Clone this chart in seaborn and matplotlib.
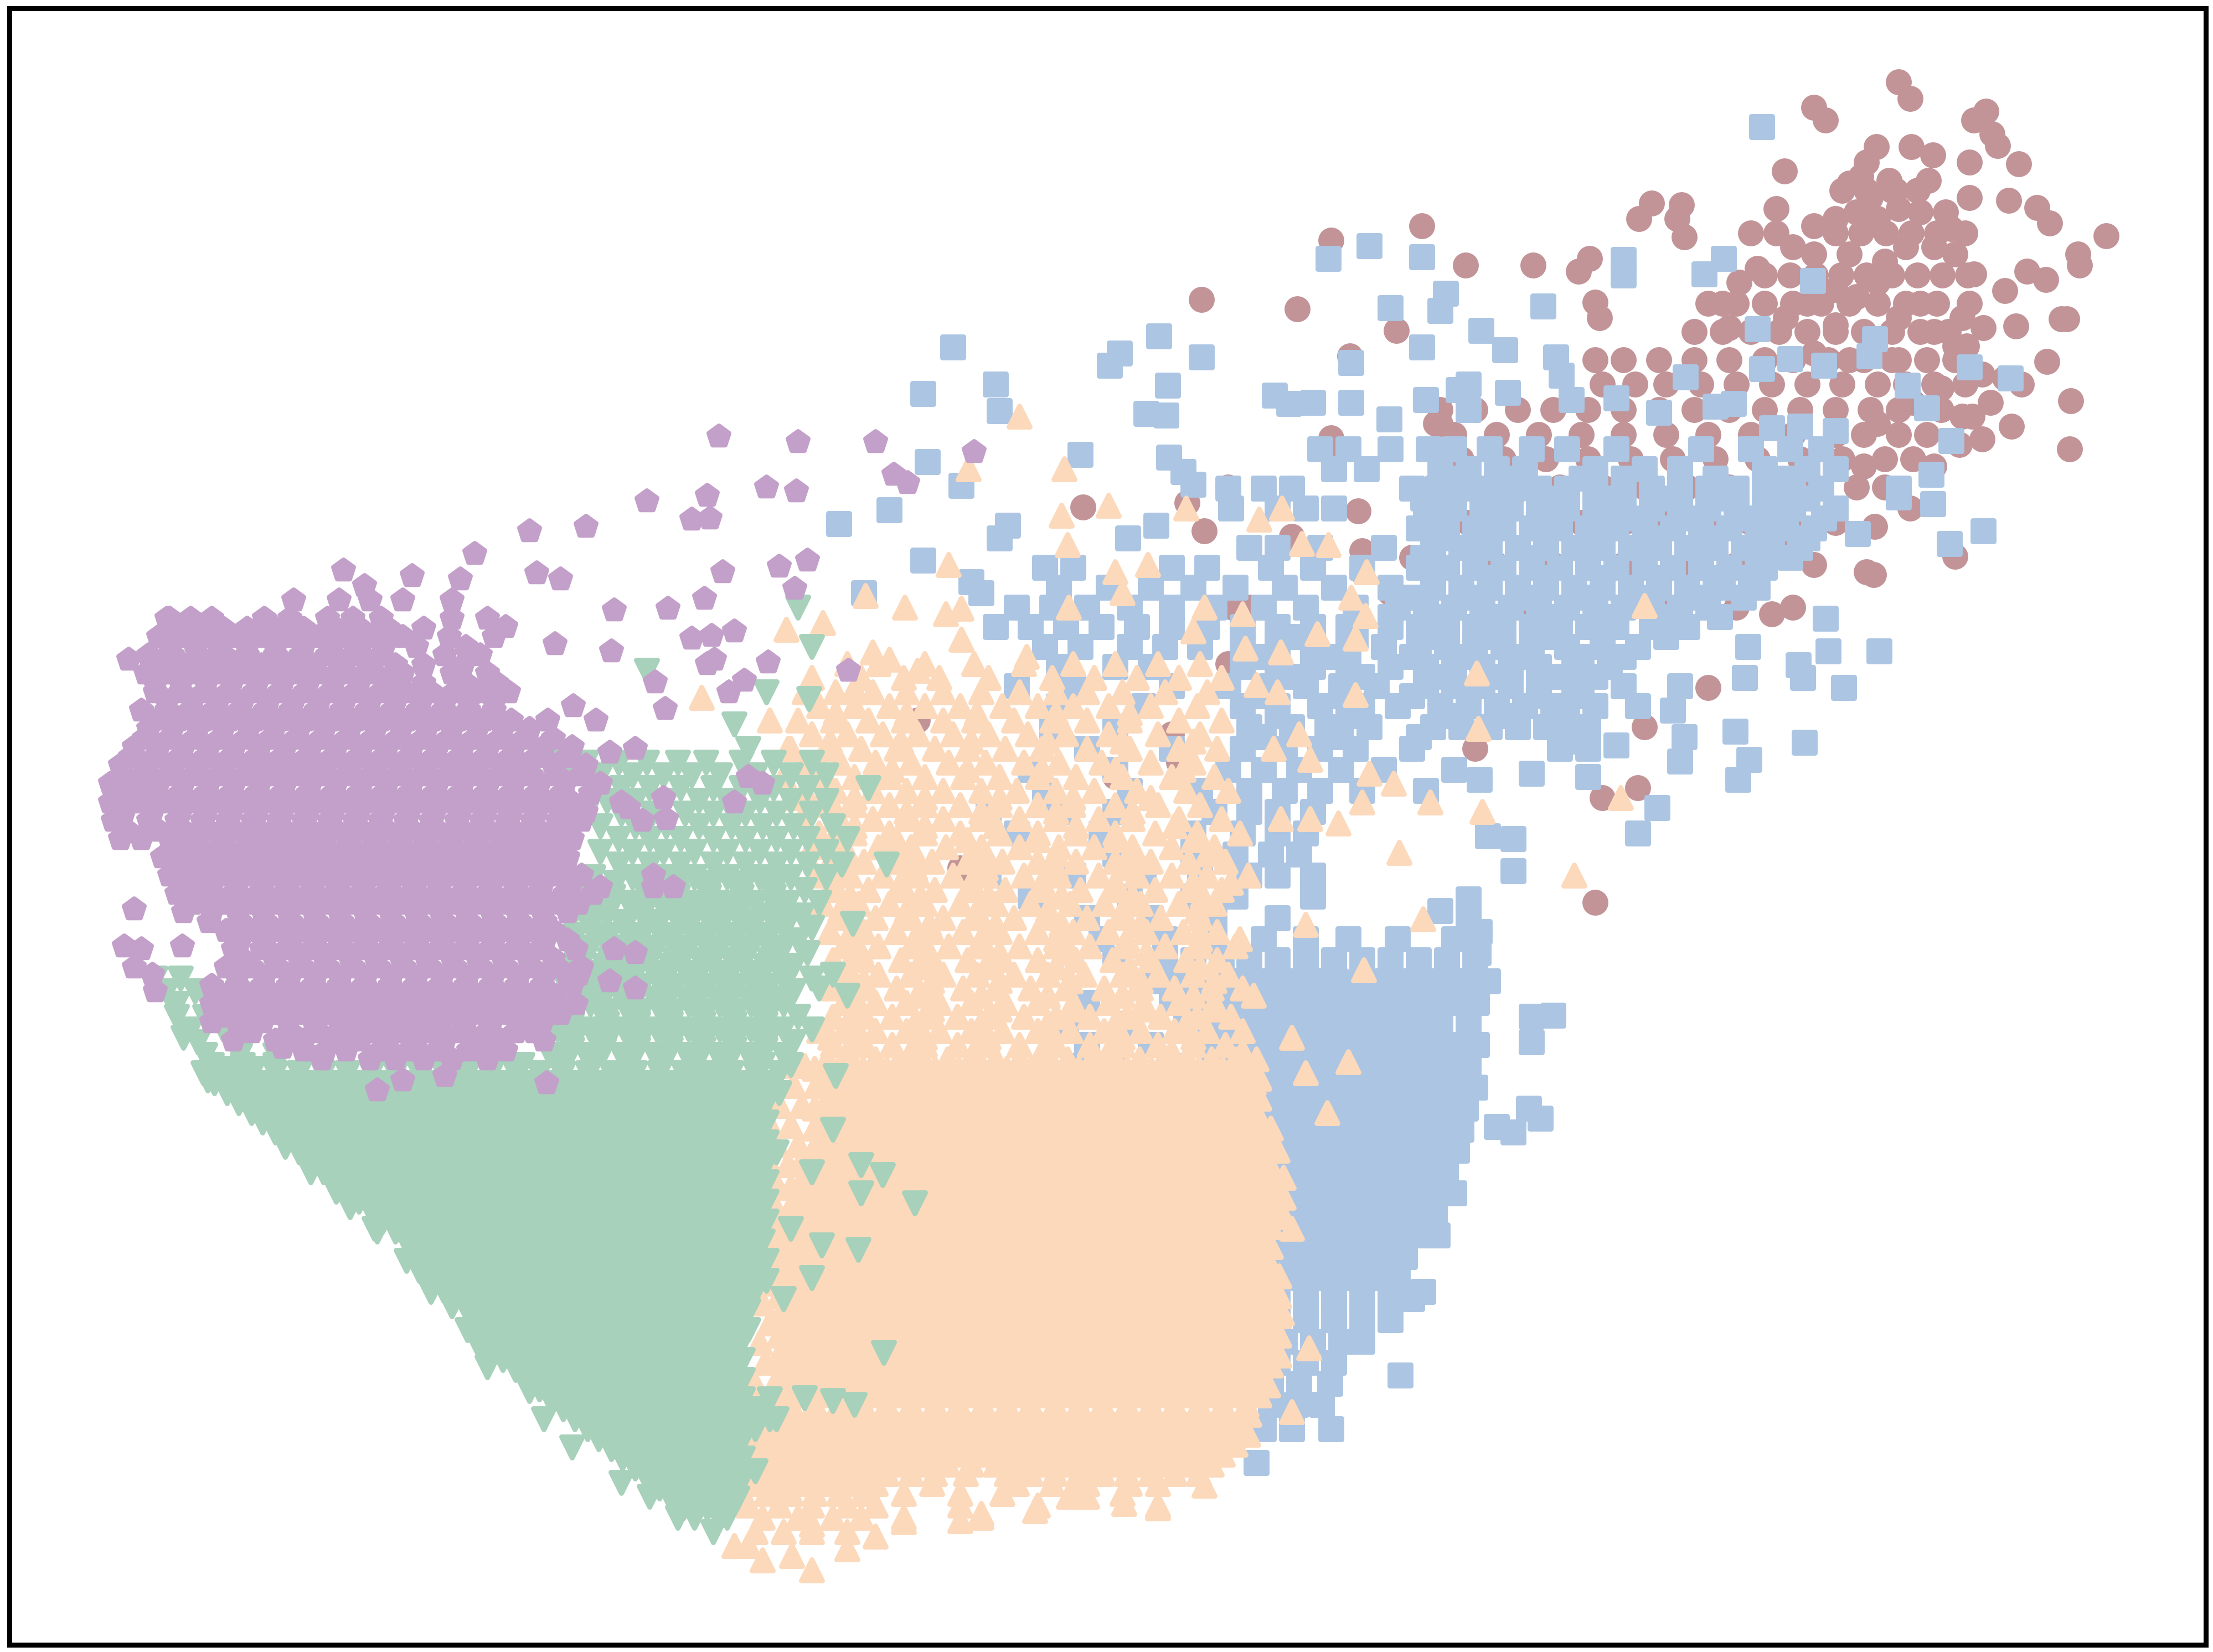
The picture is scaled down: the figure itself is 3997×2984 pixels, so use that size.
import matplotlib
matplotlib.use("Agg")
import matplotlib.pyplot as plt
import seaborn as sns

# all values, in px of the 1568x1170 view
brown_pts = [(1345,58),(1353,70),(1285,76),(1293,85),(1407,79),(1398,85),(1411,95),(1415,103),(1329,104),(1354,104),(1369,110),(1395,115),(1430,116),(1264,121),(1322,115),(1318,125),(1310,130),(1325,140),(1338,128),(1343,135),(1366,128),(1170,144),(1191,145),(1161,155),(1188,155),(1193,168),(1258,148),(1240,165),(1258,165),(1285,160),(1300,155),(1315,150),(1330,155),(1345,148),(1360,150),(1378,150),(1395,140),(1423,142),(1443,147),(1452,158),(1492,167),(1472,180),(1473,188),(1436,192),(1449,198),(1420,206),(1398,194),(1382,162),(1370,175),(1385,180),(1350,175),(1335,185),(1310,180),(1285,180),(1270,175),(1245,190),(1232,200),(1220,215),(1225,232),(1130,214),(1133,225),(1126,183),(1118,192),(1086,188),(1038,188),(1007,160),(943,170),(851,212),(919,219),(989,234),(956,252),(1020,300),(1017,300),(1460,226),(1464,226),(1405,232),(1428,231),(1393,245),(1385,245),(1404,265),(1360,215),(1345,225),(1370,235),(1390,225),(1300,205),(1280,215),(1315,210),(1330,200),(1300,230),(1265,225),(1285,250),(1310,255),(1345,255),(1467,284),(1450,256),(1425,302),(1404,311),(1397,295),(1466,318),(1432,272),(1420,268),(1410,285),(1375,275),(1390,295),(1355,285),(1330,300),(1320,330),(1335,345),(1353,360),(1388,315),(1370,330),(1385,394),(1327,407),(1322,405),(1328,373),(1262,383),(1245,400),(1255,435),(1210,487),(1165,515),(1135,565),(1160,558),(1130,639),(1045,530),(1000,395),(943,310),(945,325),(767,359),(841,356),(853,376),(962,362),(965,390),(965,405),(873,430),(885,430),(870,470),(830,520),(835,540),(650,510),(790,550),(680,615),(750,620),(830,690),(870,695),(915,380),(985,420)]

brown_rows = [
(135,[1305,1322,1340,1358]),
(165,[1300,1318,1336,1354,1372,1392]),
(195,[1250,1268,1286,1304,1322,1340,1358,1376,1394]),
(215,[1210,1230,1250,1270,1290,1310,1330,1350,1372,1395]),
(235,[1200,1220,1240,1260,1280,1300,1320,1340,1360,1380]),
(255,[1130,1150,1175,1200,1225,1250,1270,1295,1320,1340,1365,1385]),
(272,[1135,1158,1180,1205,1230,1255,1280,1305,1330,1350,1370,1392]),
(290,[1020,1045,1075,1100,1125,1150,1175,1200,1225,1250,1275,1300,1325,1345,1375]),
(308,[1030,1060,1090,1120,1150,1180,1210,1240,1270,1300,1320,1345,1365]),
(325,[1035,1065,1095,1125,1155,1185,1215,1245,1275,1305,1335,1355]),
(345,[870,1075,1105,1135,1165,1195,1225,1255,1285,1315]),
(370,[1040,1090,1120,1150,1180,1210,1240,1270,1300]),
(400,[1010,1060,1100,1150,1200,1230,1285]),
(430,[1080,1130,1180,1230,1270]),
]

blue_pts = [(1248,90),(941,183),(970,174),(1007,182),(1150,184),(1150,195),(1207,194),(1221,183),(1284,199),(1024,208),(1020,220),(985,218),(1093,217),(1245,233),(1049,234),(1066,248),(1033,276),(1007,246),(675,246),(654,279),(705,272),(708,291),(786,259),(793,250),(821,238),(827,273),(851,253),(812,293),(826,294),(1102,253),(1106,266),(1194,267),(1248,261),(1268,254),(1292,259),(1324,252),(1328,240),(1351,273),(1365,289),(1395,260),(1424,268),(903,280),(913,286),(930,285),(957,257),(957,285),(984,297),(1010,283),(1040,272),(1040,290),(1068,278),(1113,283),(1145,282),(1175,292),(1215,288),(1228,286),(1255,303),(1275,302),(1300,305),(1382,312),(1368,336),(1369,357),(1345,352),(1316,378),(1381,385),(1405,376),(1331,461),(1306,487),(1278,526),(1274,471),(1295,461),(1293,438),(1277,480),(1236,480),(1238,458),(1229,518),(1239,538),(1231,552),(1190,539),(1193,522),(1160,590),(1174,572),(1072,617),(1085,548),(1054,592),(1072,594),(1048,552),(765,322),(828,324),(838,334),(845,343),(594,371),(630,361),(657,327),(681,344),(708,381),(714,372),(654,397),(799,381),(819,372),(612,420),(688,412),(695,420),(1125,550),(1110,525),(1145,528),(1160,500),(1185,503),(1040,637),(1020,645),(1048,660),(1047,675),(1100,719),(1085,720),(1085,738),(1083,785),(1091,792),(1072,802),(1060,798),(992,974),(1008,915),(890,1036)]

blue_rows = [
(318,[935,955,985,1012,1030,1055,1085,1110,1145,1205,1240,1268,1290]),
(332,[945,968,1020,1040,1060,1080,1130,1165,1190,1250,1280,1300]),
(346,[870,895,915,1000,1018,1036,1054,1072,1090,1110,1130,1150,1170,1190,1210,1230,1250,1270,1290,1345]),
(360,[872,905,925,945,1010,1030,1050,1070,1090,1110,1130,1150,1170,1190,1210,1230,1250,1270,1300]),
(374,[1005,1025,1045,1065,1085,1105,1125,1145,1165,1185,1205,1225,1245,1265,1285]),
(388,[885,905,935,980,1015,1035,1055,1075,1095,1115,1135,1155,1175,1195,1215,1235,1255,1275]),
(402,[740,760,830,855,900,930,965,1005,1025,1045,1065,1085,1105,1125,1145,1165,1185,1205,1225,1250]),
(416,[750,785,815,845,875,910,945,985,1015,1035,1055,1075,1095,1115,1135,1155,1175,1195,1220,1245]),
(430,[720,745,770,800,830,860,895,925,960,990,1010,1030,1050,1070,1090,1110,1130,1150,1170,1190,1210]),
(444,[705,730,755,780,805,830,855,880,905,930,955,985,1005,1025,1045,1065,1085,1105,1125,1145,1170,1195]),
(458,[740,765,800,825,850,880,905,930,955,980,1005,1025,1045,1065,1085,1110,1135,1160]),
(472,[750,790,815,880,905,930,955,985,1010,1030,1050,1070,1090,1115,1140]),
(486,[720,760,830,870,900,925,950,975,1010,1030,1050,1070,1090,1120,1150,1190]),
(500,[750,810,880,905,935,965,990,1020,1040,1060,1080,1100,1130]),
(515,[745,790,885,915,940,970,1015,1035,1055,1075,1095,1125]),
(530,[770,830,880,910,935,960,1000,1105,1125]),
(545,[730,790,870,895,920,950,980,1030]),
(560,[740,800,850,885,910,935,965,1010]),
(575,[700,750,790,860,885,905,930]),
(590,[720,780,845,880,905,925]),
(605,[790,845,875,900,920]),
(620,[700,760,810,850,885,905,930]),
(635,[730,800,845,875,930]),
(650,[770,815,860,905,1040]),
(665,[780,825,860,895,925,955,990,1030]),
(680,[790,825,845,865,885,905,925,945,965,985,1005,1025,1045]),
(695,[820,838,856,874,892,910,928,946,964,982,1000,1018,1036,1054]),
(710,[770,830,848,866,884,902,920,938,956,974,992,1010,1028,1046]),
(725,[755,800,840,858,876,894,912,930,948,966,984,1002,1020,1040]),
(740,[770,815,850,868,886,904,922,940,958,976,994,1012,1030,1046]),
(755,[760,790,830,860,878,896,914,932,950,968,986,1004,1022,1040]),
(770,[755,800,840,868,886,904,922,940,958,976,994,1012,1030,1045]),
(785,[860,878,896,914,932,950,968,986,1004,1022,1038]),
(800,[860,880,898,916,934,952,970,988,1006,1024,1035]),
(815,[870,888,906,924,942,960,978,996,1014,1032]),
(830,[880,898,916,934,952,970,988,1006,1024]),
(845,[880,898,916,934,952,970,988,1006,1024,1030]),
(860,[890,908,926,944,962,980,998,1016]),
(875,[900,918,936,954,972,990,1008,1018]),
(890,[905,923,941,959,977,995]),
(905,[905,923,941,959,977,990]),
(920,[905,925,945,965,985,1000]),
(935,[905,925,945,965,985]),
(950,[910,930,950,965]),
(965,[905,925,945]),
(980,[900,920,942]),
(995,[900,918,936]),
(1012,[895,915,943]),
]

# second pass over the blue core, between the rows above
blue_fill = [
(339,[1028,1068,1120,1150,1215,1262]),
(353,[1008,1026,1062,1098,1140,1178,1220,1258,1280]),
(367,[1020,1058,1095,1135,1160,1200,1238,1262,1292]),
(381,[1018,1050,1095,1130,1172,1210,1248,1280]),
(395,[1008,1045,1085,1125,1165,1205,1245,1268]),
(409,[1015,1055,1095,1135,1175,1215,1240]),
(423,[1000,1040,1082,1122,1162,1205,1235]),
(437,[985,1020,1060,1100,1140,1180,1218]),
(451,[920,960,1015,1055,1095,1135,1180]),
(465,[895,945,1000,1040,1075,1120,1150]),
(479,[915,965,1018,1060,1105,1130]),
(493,[895,950,1000,1040,1090,1115]),
(507,[905,955,1025,1065,1110]),
(522,[895,950,1005,1115]),
]

peach_pts = [(722,295),(686,332),(754,332),(785,358),(752,365),(756,386),(672,400),(613,422),(641,430),(670,435),(681,431),(583,441),(557,446),(681,453),(618,462),(630,467),(650,475),(605,488),(497,494),(727,465),(757,430),(790,405),(813,400),(845,447),(882,459),(907,462),(933,449),(941,386),(968,405),(957,423),(967,436),(960,452),(960,492),(1046,477),(1165,429),(1047,516),(1115,620),(1050,575),(1148,565),(1013,568),(991,604),(1008,651),(970,548),(987,555),(928,538),(902,530),(920,520),(907,580),(928,580),(948,583),(965,568),(884,620),(872,625),(850,660),(878,665),(925,655),(966,687),(888,705),(915,735),(940,788),(955,752),(925,760),(888,767),(795,420),(840,360),(892,368),(908,360),(922,385),(853,430),(880,435),(905,490),(890,485),(545,510),(558,530),(530,1095),(540,1105),(575,1112),(600,1097),(640,1078),(680,1077),(695,1072),(733,1070),(757,1060),(770,1060),(796,1065),(820,1068),(853,1052),(620,1088),(575,1080),(561,1102),(520,1095),(465,1025),(510,920),(530,915),(495,1000),(475,1010),(515,1065),(915,1000),(927,955),(908,930),(915,870),(905,815),(891,800)]

peach_rows = [
(470,[600,622,655,690,725,760,790,820,850]),
(480,[575,610,640,665,700,745,775,805,835,865]),
(490,[570,592,618,642,668,695,722,748,770,795,825,855]),
(500,[580,605,630,655,680,710,735,760,785,815,848]),
(510,[565,590,615,640,668,690,718,745,770,800,835,865]),
(520,[575,600,625,650,675,700,728,755,785,820,850]),
(530,[560,585,610,635,662,685,712,738,770,800,835,862]),
(540,[570,595,620,645,672,698,725,750,780,815,845]),
(550,[555,582,605,630,655,682,708,735,762,795,830,860]),
(560,[570,592,618,642,668,695,720,748,775,805,840,870]),
(570,[580,605,630,655,680,708,735,760,790,820,850]),
(580,[568,592,618,642,668,695,722,748,778,802,835,865]),
(590,[580,605,630,655,680,708,735,762,790,818,848,878]),
(600,[575,598,622,645,670,695,722,750,775,802,830,860]),
(610,[588,612,635,660,685,710,735,762,790,815,842,868]),
(620,[578,602,625,650,675,698,725,750,778,805,830,855]),
(630,[592,615,640,662,688,712,738,765,790,818,845,865]),
(640,[583,608,630,655,680,705,730,758,782,808,835,860]),
(650,[598,620,645,668,692,718,745,770,795,822,850]),
(660,[588,612,635,660,682,708,735,760,785,812,838,862]),
(670,[600,622,648,672,695,722,748,772,798,825,850,875]),
(680,[590,612,638,660,685,710,735,762,788,815,840,862]),
(690,[600,622,645,668,692,718,742,768,795,820,845,870]),
(700,[590,612,635,658,682,705,730,755,782,808,832,858,880]),
(710,[600,620,642,665,688,712,735,760,785,810,835,860]),
(720,[590,610,632,655,678,700,725,748,772,798,822,848,872]),
(730,[580,600,620,642,665,688,710,735,758,782,808,832,855,880]),
(740,[590,610,632,655,678,700,722,748,772,795,820,845,868]),
(750,[586,603,620,637,654,671,688,705,722,739,756,773,790,807,824,841,858,875,890]),
(757,[577,594,611,628,645,662,679,696,713,730,747,764,781,798,815,832,849,866,883]),
(764,[586,603,620,637,654,671,688,705,722,739,756,773,790,807,824,841,858,875,892]),
(771,[594,611,628,645,662,679,696,713,730,747,764,781,798,815,832,849,866,883]),
(778,[586,603,620,637,654,671,688,705,722,739,756,773,790,807,824,841,858,875,892]),
(785,[577,594,611,628,645,662,679,696,713,730,747,764,781,798,815,832,849,866,883]),
(792,[586,603,620,637,654,671,688,705,722,739,756,773,790,807,824,841,858,875,892]),
(799,[577,594,611,628,645,662,679,696,713,730,747,764,781,798,815,832,849,866,883,900]),
(806,[586,603,620,637,654,671,688,705,722,739,756,773,790,807,824,841,858,875,892]),
(813,[577,594,611,628,645,662,679,696,713,730,747,764,781,798,815,832,849,866,883,900]),
(820,[569,586,603,620,637,654,671,688,705,722,739,756,773,790,807,824,841,858,875,892]),
(827,[577,594,611,628,645,662,679,696,713,730,747,764,781,798,815,832,849,866,883,900]),
(834,[569,586,603,620,637,654,671,688,705,722,739,756,773,790,807,824,841,858,875,892,909]),
(841,[560,577,594,611,628,645,662,679,696,713,730,747,764,781,798,815,832,849,866,883,900]),
(848,[569,586,603,620,637,654,671,688,705,722,739,756,773,790,807,824,841,858,875,892,909]),
(855,[560,577,594,611,628,645,662,679,696,713,730,747,764,781,798,815,832,849,866,883,900]),
(862,[552,569,586,603,620,637,654,671,688,705,722,739,756,773,790,807,824,841,858,875,892,909]),
(869,[560,577,594,611,628,645,662,679,696,713,730,747,764,781,798,815,832,849,866,883,900]),
(876,[552,569,586,603,620,637,654,671,688,705,722,739,756,773,790,807,824,841,858,875,892]),
(883,[560,577,594,611,628,645,662,679,696,713,730,747,764,781,798,815,832,849,866,883,900]),
(890,[552,569,586,603,620,637,654,671,688,705,722,739,756,773,790,807,824,841,858,875,892]),
(897,[560,577,594,611,628,645,662,679,696,713,730,747,764,781,798,815,832,849,866,883,900]),
(904,[552,569,586,603,620,637,654,671,688,705,722,739,756,773,790,807,824,841,858,875,892,906]),
(911,[560,577,594,611,628,645,662,679,696,713,730,747,764,781,798,815,832,849,866,883,900]),
(918,[552,569,586,603,620,637,654,671,688,705,722,739,756,773,790,807,824,841,858,875,892,906]),
(925,[560,577,594,611,628,645,662,679,696,713,730,747,764,781,798,815,832,849,866,883,900]),
(932,[552,569,586,603,620,637,654,671,688,705,722,739,756,773,790,807,824,841,858,875,892,906]),
(939,[560,577,594,611,628,645,662,679,696,713,730,747,764,781,798,815,832,849,866,883,900]),
(946,[552,569,586,603,620,637,654,671,688,705,722,739,756,773,790,807,824,841,858,875,892,906]),
(953,[560,577,594,611,628,645,662,679,696,713,730,747,764,781,798,815,832,849,866,883,900]),
(960,[552,569,586,603,620,637,654,671,688,705,722,739,756,773,790,807,824,841,858,875,892,906]),
(967,[560,577,594,611,628,645,662,679,696,713,730,747,764,781,798,815,832,849,866,883,900]),
(974,[552,569,586,603,620,637,654,671,688,705,722,739,756,773,790,807,824,841,858,875,892]),
(981,[535,560,577,594,611,628,645,662,679,696,713,730,747,764,781,798,815,832,849,866,883,898]),
(988,[526,552,569,586,603,620,637,654,671,688,705,722,739,756,773,790,807,824,841,858,875,892]),
(995,[518,535,560,577,594,611,628,645,662,679,696,713,730,747,764,781,798,815,832,849,866,883]),
(1002,[510,526,543,560,577,594,611,628,645,662,679,696,713,730,747,764,781,798,815,832,849,866,885]),
(1009,[518,535,552,569,586,603,620,637,654,671,688,705,722,739,756,773,790,807,824,841,858,875]),
(1016,[510,526,543,560,577,594,611,628,645,662,679,696,713,730,747,764,781,798,815,832,849,866,884]),
(1023,[500,518,535,552,569,586,603,620,637,654,671,688,705,722,739,756,773,790,807,824,841,858,875]),
(1030,[510,526,543,560,577,594,611,628,645,662,679,696,713,730,747,764,781,798,815,832,849,866]),
(1037,[500,518,535,552,569,586,603,620,637,654,671,688,705,722,739,756,773,790,807,824,841,858]),
(1044,[510,526,543,560,577,594,611,628,645,662,684,713,730,747,764,781,798,815,832,849]),
(1051,[518,535,552,569,586,603,620,660,720,745,770,800,820]),
(1058,[526,543,560,577,594,611,640,680,710,760,795]),
(1066,[530,552,575,600,620,680,735,820]),
(1075,[540,565,590,610,640,695]),
(1085,[535,555,575,600]),
]

# second pass: peach gets nearly solid from y 560 down, and reaches the green on its left
peach_fill = [
(505,[592,642,692,748,800]),
(525,[588,638,688,742,795,845]),
(545,[582,632,685,738,790,838]),
(565,[560,605,655,708,760,815]),
(575,[592,642,695,748,802]),
(585,[605,655,705,762,832]),
(595,[590,635,685,735,790,845]),
(605,[600,648,698,748,802,855]),
(615,[598,648,698,748,798]),
(625,[590,638,688,738,790,845]),
(635,[602,652,700,752,802,852]),
(645,[595,642,692,742,795,848]),
(655,[608,658,705,752,808]),
(665,[600,648,695,748,798,850]),
(675,[610,658,708,758,812]),
(685,[600,650,698,748,800,850]),
(695,[612,660,708,758,808,860]),
(705,[600,650,695,742,795,845]),
(715,[610,660,708,758,810,860]),
(725,[600,648,695,742,790,840]),
(735,[588,610,655,700,745,795,845]),
(745,[600,645,690,738,785,830,880]),
(755,[555,570]),
(769,[545,562,578]),
(783,[552,568]),
(797,[545,560]),
(811,[550,565]),
(825,[545,558]),
(839,[550]),
(853,[548]),
(867,[542]),
(881,[545]),
(895,[540]),
(909,[545]),
(923,[540]),
(937,[545]),
(951,[538]),
(965,[542]),
]

green_pts = [(565,430),(575,458),(458,475),(543,490),(573,495),(520,513),(392,535),(530,530),(615,558),(628,612),(604,654),(600,705),(592,762),(590,800),(575,830),(610,825),(625,832),(648,852),(610,845),(582,882),(608,885),(626,958),(575,905),(590,992),(605,995),(570,990),(550,1005),(535,1042),(248,855),(220,830),(202,812),(265,870),(305,915),(320,925),(340,955),(345,968),(375,985),(385,1005),(405,1025),(440,1050),(460,1060),(480,1075),(505,1085),(515,1075),(147,765),(170,778),(130,735),(555,920),(560,870),(580,700),(590,690)]

green_rows = [
(540,[395,415,438,458,480,500,525,548,575]),
(549,[405,425,448,470,490,510,535,560,585]),
(558,[420,440,460,482,505,525,548,572]),
(567,[430,450,472,495,515,538,560,585]),
(576,[415,440,462,485,505,528,550,575]),
(585,[425,450,472,495,518,540,562,590]),
(594,[438,460,482,505,528,550,572,600]),
(603,[425,448,470,492,515,538,560,585]),
(612,[438,460,482,505,528,550,572,596]),
(621,[420,448,470,492,515,538,560,585]),
(630,[432,458,480,502,525,548,570]),
(639,[420,445,468,490,512,535,558,580]),
(648,[430,455,478,500,522,545,568]),
(657,[418,442,465,488,510,532,555,575]),
(666,[428,452,475,498,520,542,565]),
(675,[415,440,462,485,508,530,552,572]),
(684,[405,428,452,475,498,520,542,562]),
(693,[110,128,398,418,442,465,488,510,532,555,575]),
(702,[118,138,405,428,452,475,498,520,542,562]),
(711,[125,148,395,418,442,465,488,510,532,555]),
(720,[125,145,405,428,452,475,498,520,542,565]),
(729,[135,158,395,418,442,465,488,510,532,555,575]),
(738,[140,165,405,428,452,475,498,520,542,562]),
(747,[145,170,195,390,415,440,465,488,510,532,555]),
(754,[150,172,195,345,370,395,420,445,468,492,515,540,560]),
(760,[144,161,178,195,212,229,246,263,280,297,314,331,348,365,382,399,416,433,450,467,484,501,518,535,552]),
(767,[152,169,186,203,220,237,254,271,288,305,322,339,356,373,390,407,424,441,458,475,492,509,526,543]),
(774,[161,178,195,212,229,246,263,280,297,314,331,348,365,382,399,416,433,450,467,484,501,518,535,552]),
(781,[169,186,203,220,237,254,271,288,305,322,339,356,373,390,407,424,441,458,475,492,509,526,543]),
(788,[178,195,212,229,246,263,280,297,314,331,348,365,382,399,416,433,450,467,484,501,518,535]),
(795,[186,203,220,237,254,271,288,305,322,339,356,373,390,407,424,441,458,475,492,509,526,543]),
(802,[195,212,229,246,263,280,297,314,331,348,365,382,399,416,433,450,467,484,501,518,535]),
(809,[203,220,237,254,271,288,305,322,339,356,373,390,407,424,441,458,475,492,509,526,543]),
(816,[212,229,246,263,280,297,314,331,348,365,382,399,416,433,450,467,484,501,518,535,550]),
(823,[220,237,254,271,288,305,322,339,356,373,390,407,424,441,458,475,492,509,526,543]),
(830,[229,246,263,280,297,314,331,348,365,382,399,416,433,450,467,484,501,518,535]),
(837,[237,254,271,288,305,322,339,356,373,390,407,424,441,458,475,492,509,526,543]),
(844,[238,246,263,280,297,314,331,348,365,382,399,416,433,450,467,484,501,518,535]),
(851,[254,271,288,305,322,339,356,373,390,407,424,441,458,475,492,509,526,543]),
(858,[263,280,297,314,331,348,365,382,399,416,433,450,467,484,501,518,535]),
(865,[271,288,305,322,339,356,373,390,407,424,441,458,475,492,509,526,543]),
(872,[267,280,297,314,331,348,365,382,399,416,433,450,467,484,501,518,535]),
(879,[288,305,322,339,356,373,390,407,424,441,458,475,492,509,526,540]),
(886,[297,314,331,348,365,382,399,416,433,450,467,484,501,518,535]),
(893,[288,305,322,339,356,373,390,407,424,441,458,475,492,509,526,543]),
(900,[297,314,331,348,365,382,399,416,433,450,467,484,501,518,535]),
(907,[305,322,339,356,373,390,407,424,441,458,475,492,509,526,543]),
(914,[314,331,348,365,382,399,416,433,450,467,484,501,518,535]),
(921,[322,339,356,373,390,407,424,441,458,475,492,509,526]),
(928,[331,348,365,382,399,416,433,450,467,484,501,518,530]),
(935,[339,356,373,390,407,424,441,458,475,492,509,526]),
(942,[331,348,365,382,399,416,433,450,467,484,501,518,530]),
(949,[339,356,373,390,407,424,441,458,475,492,509,526]),
(956,[348,365,382,399,416,433,450,467,484,501,518]),
(963,[356,373,390,407,424,441,458,475,492,509,526]),
(970,[365,382,399,416,433,450,467,484,501,518]),
(977,[373,390,407,424,441,458,475,492,509,526]),
(984,[382,399,416,433,450,467,484,501,518]),
(991,[390,407,424,441,458,475,492,509,526,545]),
(998,[399,416,433,450,467,484,501,518,535]),
(1005,[407,424,441,458,475,492,509,526,545]),
(1012,[416,433,450,467,484,501,518,535]),
(1019,[424,441,458,475,492,509,526]),
(1026,[433,450,467,484,501,518]),
(1033,[441,458,475,492,509,526]),
(1040,[450,467,484,501,518]),
(1047,[458,475,492,509,526]),
(1054,[467,484,501,518]),
(1061,[475,492,509,522]),
(1068,[484,501,518]),
(1075,[492,509]),
]

# second pass: green between purple and peach is almost solid under y 640
green_fill = [
(625,[408,436,460,482,505,528,550]),
(635,[410,434,458,480,502,525,548]),
(644,[408,432,455,478,502,525,550]),
(653,[420,442,465,488,510,535,558]),
(662,[408,432,455,478,500,522,545]),
(671,[418,442,465,488,510,532,555]),
(680,[408,432,455,478,500,522,545]),
(689,[418,442,465,488,510,532,555]),
(698,[408,432,455,478,500,522,545]),
(707,[418,442,465,488,510,532,552]),
(716,[408,432,455,478,500,522,545]),
(725,[405,430,452,475,498,520,542]),
(734,[408,432,455,478,500,522,545]),
(743,[405,428,452,475,498,520,542]),
(750,[398,420,442,465,488,510,532]),
(757,[150,165,180]),
]

purple_pts = [(509,309),(565,313),(620,313),(690,320),(633,336),(643,342),(543,345),(564,348),(458,355),(501,351),(490,368),(503,367),(375,376),(415,373),(336,392),(243,404),(380,406),(397,410),(326,410),(512,405),(552,401),(572,397),(563,417),(601,475),(292,408),(258,415),(435,432),(473,431),(499,424),(520,447),(490,452),(504,450),(433,461),(393,456),(358,444),(120,438),(91,467),(544,469),(527,482),(516,490),(464,483),(406,500),(388,510),(422,510),(471,502),(501,470),(506,467),(450,530),(432,533),(520,568),(540,555),(530,550),(470,565),(445,572),(472,580),(463,620),(477,628),(463,628),(425,628),(95,644),(450,675),(435,672),(432,695),(450,700),(410,690),(88,670),(100,672),(95,685),(108,690),(110,702),(129,670),(267,772),(285,765),(315,762),(387,767),(230,745),(345,745),(200,742),(155,705),(160,720)]

purple_rows = [
(425,[208,240,262,285,320]),
(438,[118,135,150,187,205,232,250,270,320,345]),
(451,[112,130,148,165,185,205,225,245,262,285,318,350]),
(464,[105,122,140,158,175,195,213,232,250,270,315,340]),
(477,[103,120,137,155,172,190,208,225,245,265,285,320,345]),
(490,[110,128,145,162,180,198,216,234,252,270,288,305,322,340,360]),
(503,[100,118,135,152,170,188,206,224,242,260,278,296,314,332,350]),
(516,[105,122,140,158,176,194,212,230,248,266,284,302,320,338,356,375]),
(529,[95,112,130,148,166,184,202,220,238,256,274,292,310,328,346,364,385,405]),
(542,[85,102,120,138,156,174,192,210,228,246,264,282,300,318,336,354,372,392,415]),
(555,[78,95,112,130,148,166,184,202,220,238,256,274,292,310,328,346,364,382,400,425]),
(568,[78,98,118,136,154,172,190,208,226,244,262,280,298,316,334,352,370,388,405,440]),
(581,[80,105,125,143,161,179,197,215,233,251,269,287,305,323,341,359,377,395,412,455]),
(594,[85,100,120,138,156,174,192,210,228,246,264,282,300,318,336,354,372,390,405]),
(607,[115,133,151,169,187,205,223,241,259,277,295,313,331,349,367,385,402]),
(620,[120,140,158,176,194,212,230,248,266,284,302,320,338,356,374,392,412]),
(633,[125,145,165,183,201,219,237,255,273,291,309,327,345,363,381,400,420]),
(646,[130,150,168,186,204,222,240,258,276,294,312,330,348,366,384,402]),
(659,[160,178,196,214,232,250,268,286,304,322,340,358,376,392]),
(672,[165,185,203,221,239,257,275,293,311,329,347,365,383,408]),
(685,[160,178,196,214,232,250,268,286,304,322,340,358,376,394,412]),
(698,[150,168,186,204,222,240,258,276,294,312,330,348,366,384,405]),
(711,[150,170,190,208,226,244,262,280,298,316,334,352,370,388,408]),
(724,[150,168,186,204,222,240,258,276,294,312,330,348,366,384]),
(737,[165,195,215,235,255,275,295,315,335,355,385]),
(750,[228,262,280,300,320,345]),
]

# second pass: the purple blob is solid
purple_fill = [
(445,[125,142,158,175,195,215,238,255,275,300]),
(458,[120,138,155,175,195,215,235,255,272,295,330]),
(471,[112,130,148,166,185,204,222,240,260,280,300,328]),
(484,[110,128,146,164,182,200,218,236,254,275,300,330,352]),
(497,[118,136,154,172,190,208,226,244,262,280,298,315,332,350]),
(510,[108,126,144,162,180,198,216,234,252,270,288,306,324,342,362]),
(523,[102,120,138,156,174,192,210,228,246,264,282,300,318,336,354,372,392]),
(536,[92,110,128,146,164,182,200,218,236,254,272,290,308,326,344,362,380,402]),
(549,[88,106,124,142,160,178,196,214,232,250,268,286,304,322,340,358,376,394,412]),
(562,[88,106,128,146,164,182,200,218,236,254,272,290,308,326,344,362,380,398,418]),
(575,[88,108,128,146,164,182,200,218,236,254,272,290,308,326,344,362,380,398,415]),
(588,[90,112,130,148,166,184,202,220,238,256,274,292,310,328,346,364,382,400]),
(601,[125,142,160,178,196,214,232,250,268,286,304,322,340,358,376,394]),
(614,[128,146,164,182,200,218,236,254,272,290,308,326,344,362,380,398]),
(627,[132,150,168,186,204,222,240,258,276,294,312,330,348,366,384,404]),
(640,[136,156,175,193,211,229,247,265,283,301,319,337,355,373,392,410]),
(653,[148,170,188,206,224,242,260,278,296,314,332,350,368,386]),
(666,[170,188,206,224,242,260,278,296,314,332,350,368,386,402]),
(679,[172,194,212,230,248,266,284,302,320,338,356,374,392]),
(692,[168,187,205,223,241,259,277,295,313,331,349,367,385,402]),
(705,[158,177,195,213,231,249,267,285,303,321,339,357,375,393]),
(718,[158,178,198,217,235,253,271,289,307,325,343,361,379,397]),
(731,[178,205,225,245,265,285,305,325,345,365,378]),
(744,[215,245,270,290,310,332,358]),
]


def flatten(rows, pts):
    xs = [p[0] for p in pts] + [x for y, row in rows for x in row]
    ys = [p[1] for p in pts] + [y for y, row in rows for x in row]
    return xs, ys


sns.set_theme(style="white")

fig = plt.figure(figsize=(19.99, 14.92), dpi=200)
ax = fig.add_axes([16.5 / 3998, 1 - 2971 / 2984, (3984.5 - 16.5) / 3998, (2971 - 14.5) / 2984])

layers = [
    (flatten(brown_rows, brown_pts), "o", "#C29498"),
    (flatten(blue_rows + blue_fill, blue_pts), "s", "#ABC5E3"),
    (flatten(peach_rows + peach_fill, peach_pts), "^", "#FCD9BB"),
    (flatten(green_rows + green_fill, green_pts), "v", "#A7D1BA"),
    (flatten(purple_rows + purple_fill, purple_pts), "p", "#C3A0C9"),
]
for (xs, ys), marker, color in layers:
    sns.scatterplot(x=xs, y=ys, marker=marker, s=187, color=color, edgecolor=color, linewidth=3.2, ax=ax)

ax.set_xlim(6.5, 1562.7)
ax.set_ylim(1165, 5.7)
ax.set_xticks([])
ax.set_yticks([])
for spine in ax.spines.values():
    spine.set_visible(True)
    spine.set_color("black")
    spine.set_linewidth(3.24)

fig.savefig("out.png", dpi=200)
